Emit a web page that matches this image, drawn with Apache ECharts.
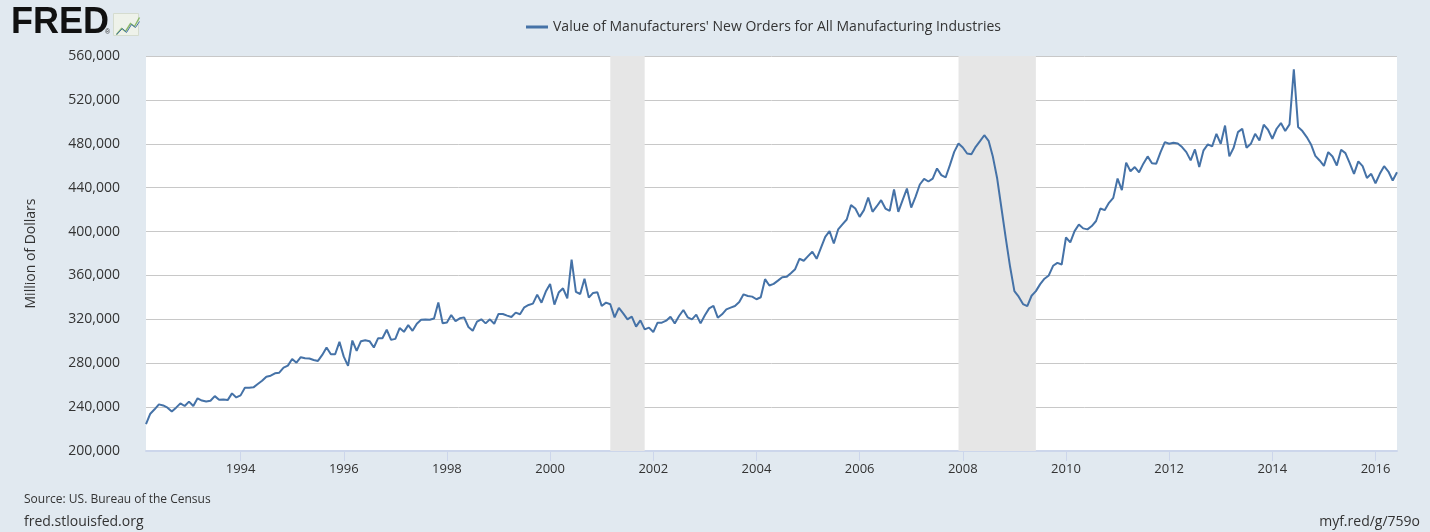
<!DOCTYPE html>
<html>
<head>
<meta charset="utf-8">
<script src="https://cdn.jsdelivr.net/npm/echarts@6/dist/echarts.min.js"></script>
<style>
  html, body { margin: 0; padding: 0; background: #e1e9f0; }
  #chart { width: 1430px; height: 532px; }
</style>
</head>
<body>
<div id="chart"></div>
<script>
// ---- data (monthly, Million of Dollars) ----
const startYear = 1992;
const startMonth = 3; // March 1992
const orders = [
  224500, 234000, 238000, 242500, 241500, 239500, 236000, 239500, 243400, 241000,
  245000, 241000, 248000, 246000, 245200, 245800, 250000, 246700, 247000, 246400,
  252500, 248800, 250700, 257700, 257700, 258000, 261000, 264000, 267700, 268600,
  270800, 271400, 276000, 277800, 283900, 280500, 285500, 284600, 284300, 283000,
  282100, 287600, 294300, 288200, 288200, 299500, 286000, 277600, 300700, 291300,
  300100, 301000, 300100, 294300, 302800, 302800, 310500, 301300, 302200, 312000,
  308600, 314700, 309500, 316000, 319600, 319900, 319600, 320800, 335400, 316500,
  317200, 323900, 318400, 320900, 321800, 313000, 309600, 317900, 320000, 316300,
  320000, 316000, 324900, 324900, 323400, 322100, 326100, 324600, 331000, 333100,
  334300, 342500, 335200, 345300, 352300, 333400, 344400, 348300, 339200, 374500,
  345000, 343100, 356900, 339800, 344100, 344700, 332200, 335200, 333700, 321800,
  330400, 325500, 320000, 322400, 313300, 319000, 310900, 312400, 308400, 317000,
  317000, 318800, 322400, 316300, 323000, 328500, 321800, 320000, 324300, 316300,
  323700, 330000, 332200, 321500, 324600, 329100, 330700, 332200, 335800, 342800,
  341300, 340700, 338300, 340100, 356600, 350800, 352300, 355300, 358400, 358700,
  362000, 365700, 375200, 373400, 377600, 381600, 375200, 385200, 395200, 400400,
  389100, 401900, 406500, 411000, 424100, 421000, 413400, 419500, 431000, 418000,
  423100, 428600, 421000, 418900, 438300, 418000, 428600, 439200, 421900, 431600,
  442900, 448000, 445600, 448300, 457500, 451400, 449300, 460500, 472600, 480200,
  476600, 471100, 470500, 477200, 482400, 487800, 482700, 468100, 448300, 421000,
  393700, 367900, 345700, 340600, 333900, 332100, 341500, 345700, 352100, 357000,
  360000, 368800, 371500, 370000, 394600, 390100, 400400, 406500, 402900, 402000,
  405000, 409600, 421000, 419500, 426200, 430700, 448300, 437700, 462800, 454900,
  458800, 454000, 461900, 468500, 462200, 461900, 472400, 481500, 480000, 480900,
  480300, 477000, 472400, 464900, 474900, 458800, 474000, 479400, 477600, 489100,
  480000, 496600, 468500, 476400, 490600, 493700, 476300, 480000, 489100, 483000,
  497400, 492800, 484600, 493700, 498900, 491600, 497700, 547900, 495200, 491600,
  486100, 479400, 469000, 464800, 459900, 472400, 468400, 460200, 474500, 471500,
  462300, 452600, 463900, 459600, 448900, 452600, 444000, 452600, 459600, 454700,
  446500, 454100
];
const months = [];
for (let i = 0; i < orders.length; i++) {
  const m0 = startMonth - 1 + i;
  const y = startYear + Math.floor(m0 / 12);
  const m = (m0 % 12) + 1;
  months.push(y + '-' + (m < 10 ? '0' + m : '' + m));
}
const tickYears = ['1994','1996','1998','2000','2002','2004','2006','2008','2010','2012','2014','2016'];
const recessions = [['2001-03', '2001-11'], ['2007-12', '2009-06']];
const yTicks = { min: 200000, max: 560000, step: 40000 };
const seriesName = "Value of Manufacturers' New Orders for All Manufacturing Industries";

const isYearTick = (idx, val) => val.endsWith('-01') && tickYears.includes(val.slice(0, 4));

const chart = echarts.init(document.getElementById('chart'), null, { renderer: 'canvas' });
chart.setOption({
  animation: false,
  backgroundColor: '#e1e9f0',
  textStyle: { fontFamily: 'Open Sans' },
  legend: {
    left: 521, top: 15,
    icon: 'rect', itemWidth: 22, itemHeight: 3, itemGap: 5,
    textStyle: { fontFamily: 'Open Sans', fontSize: 14, color: '#333' },
    data: [seriesName]
  },
  grid: {
    left: 146, right: 33, top: 56, bottom: 81,
    show: true, backgroundColor: '#ffffff', borderWidth: 0
  },
  xAxis: {
    type: 'category',
    data: months,
    boundaryGap: false,
    axisLine: { show: true, lineStyle: { color: '#ccd6eb', width: 2 } },
    axisTick: { show: true, interval: isYearTick, length: 10, lineStyle: { color: '#ccd6eb', width: 1 } },
    axisLabel: {
      interval: isYearTick,
      formatter: v => v.slice(0, 4),
      fontFamily: 'Open Sans', fontSize: 13, color: '#333', margin: 12
    },
    splitLine: { show: false }
  },
  yAxis: {
    type: 'value',
    min: yTicks.min, max: yTicks.max, interval: yTicks.step,
    name: 'Million of Dollars',
    nameLocation: 'middle', nameGap: 108, nameRotate: 90,
    nameTextStyle: { fontFamily: 'Open Sans', fontSize: 14, color: '#333' },
    axisLine: { show: false }, axisTick: { show: false },
    axisLabel: {
      margin: 26,
      fontFamily: 'Open Sans', fontSize: 14, color: '#333',
      formatter: v => v.toLocaleString('en-US')
    },
    splitLine: { lineStyle: { color: '#c8c8c8', width: 1 } }
  },
  series: [{
    name: seriesName,
    type: 'line',
    data: orders,
    symbol: 'none',
    color: '#4572a7',
    lineStyle: { color: '#4572a7', width: 2 },
    markArea: {
      silent: true,
      itemStyle: { color: '#e6e6e6' },
      data: recessions.map(r => [{ xAxis: r[0] }, { xAxis: r[1] }])
    },
    z: 3
  }],
  graphic: [
    { type: 'text', left: 11, top: 5,
      style: { text: 'FRED', font: 'bold 36px "Liberation Sans"', fill: '#111', letterSpacing: -1 } },
    { type: 'text', left: 105, top: 29,
      style: { text: '®', font: '7px "Liberation Sans"', fill: '#333' } },
    { type: 'rect', left: 113, top: 13, shape: { width: 25, height: 22 },
      style: { fill: '#eef2ea', stroke: '#d5dccf', lineWidth: 1 } },
    { type: 'polyline', left: 114, top: 15,
      shape: { points: [[0, 18], [5, 12], [9, 15], [14, 7], [18, 10], [23, 1]] },
      style: { stroke: '#8bb86a', lineWidth: 1.5, fill: null } },
    { type: 'polyline', left: 114, top: 19,
      shape: { points: [[0, 15], [6, 9], [10, 13], [15, 5], [19, 8], [23, 2]] },
      style: { stroke: '#4572a7', lineWidth: 1, fill: null } },
    { type: 'text', left: 24, top: 494,
      style: { text: 'Source: US. Bureau of the Census', font: '12px "Open Sans"', fill: '#333' } },
    { type: 'text', left: 24, top: 515,
      style: { text: 'fred.stlouisfed.org', font: '14px "Open Sans"', fill: '#333' } },
    { type: 'text', right: 10, top: 515,
      style: { text: 'myf.red/g/759o', font: '14px "Open Sans"', fill: '#333' } }
  ]
});
</script>
</body>
</html>
